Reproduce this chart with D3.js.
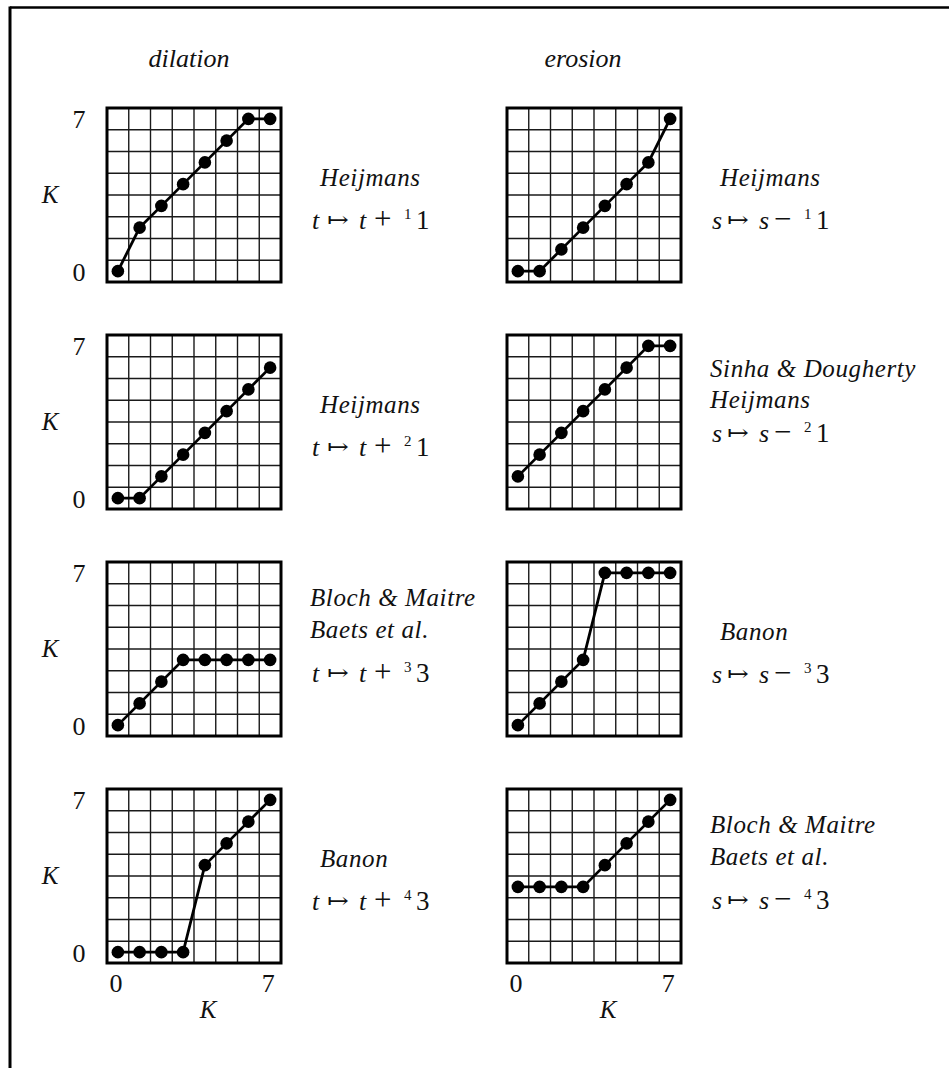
<!DOCTYPE html>
<html>
<head>
<meta charset="utf-8">
<script src="https://cdn.jsdelivr.net/npm/d3@7"></script>
<style>
  html, body { margin: 0; padding: 0; background: #fff; }
  svg { display: block; }
</style>
</head>
<body>
<svg id="chart" width="949" height="1068"></svg>
<script>
// Input values K = 0..7
const levels = [0, 1, 2, 3, 4, 5, 6, 7];
const tickLabels = ["0", "7"];
const columnTitles = ["dilation", "erosion"];
const axisName = "K";

// Adjunctional pairs, one row per table entry (dilation | erosion)
const dilation1 = [0, 2, 3, 4, 5, 6, 7, 7];
const erosion1  = [0, 0, 1, 2, 3, 4, 5, 7];
const dilation2 = [0, 0, 1, 2, 3, 4, 5, 6];
const erosion2  = [1, 2, 3, 4, 5, 6, 7, 7];
const dilation3 = [0, 1, 2, 3, 3, 3, 3, 3];
const erosion3  = [0, 1, 2, 3, 7, 7, 7, 7];
const dilation4 = [0, 0, 0, 0, 4, 5, 6, 7];
const erosion4  = [3, 3, 3, 3, 4, 5, 6, 7];

const dilationSeries = [dilation1, dilation2, dilation3, dilation4];
const erosionSeries  = [erosion1, erosion2, erosion3, erosion4];

// Attribution lines for each operator
const dilationAuthors = [["Heijmans"], ["Heijmans"], ["Bloch & Maitre", "Baets et al."], ["Banon"]];
const erosionAuthors  = [["Heijmans"], ["Sinha & Dougherty", "Heijmans"], ["Banon"], ["Bloch & Maitre", "Baets et al."]];

// Operator formulas: variable, sign, superscript index, constant
const dilationVar = "t", dilationSign = "+";
const erosionVar = "s", erosionSign = "\u2212";
const operatorIndex = ["1", "2", "3", "4"];
const operatorConst = ["1", "1", "3", "3"];

const SERIF = "'Liberation Serif', 'Times New Roman', Times, serif";

const svg = d3.select("#chart")
  .attr("font-family", SERIF)
  .attr("fill", "#111");

// outer frame (top and left rules)
svg.append("line").attr("x1", 10).attr("y1", 7.5).attr("x2", 949).attr("y2", 7.5)
  .attr("stroke", "#000").attr("stroke-width", 2.5);
svg.append("line").attr("x1", 10).attr("y1", 6.5).attr("x2", 10).attr("y2", 1068)
  .attr("stroke", "#000").attr("stroke-width", 3);

const size = 174;
const colX = [107, 507];
const rowY = [108, 335, 562, 789];

const x = d3.scaleLinear().domain([-0.5, 7.5]).range([0, size]);
const y = d3.scaleLinear().domain([-0.5, 7.5]).range([size, 0]);
const cellEdges = d3.range(-0.5, 8, 1);

// column titles
const titleCenters = [189, 583];
columnTitles.forEach((t, c) => {
  svg.append("text")
    .attr("x", titleCenters[c])
    .attr("y", 67)
    .attr("text-anchor", "middle")
    .attr("font-size", 26)
    .attr("font-style", "italic")
    .text(t);
});

function drawPanel(g, values) {
  // grid
  const grid = g.append("g");
  grid.selectAll("line.v").data(cellEdges.slice(1, -1)).join("line")
    .attr("x1", d => x(d)).attr("x2", d => x(d))
    .attr("y1", 0).attr("y2", size)
    .attr("stroke", "#1a1a1a").attr("stroke-width", 1.4);
  grid.selectAll("line.h").data(cellEdges.slice(1, -1)).join("line")
    .attr("y1", d => y(d)).attr("y2", d => y(d))
    .attr("x1", 0).attr("x2", size)
    .attr("stroke", "#1a1a1a").attr("stroke-width", 1.4);
  g.append("rect").attr("x", 0).attr("y", 0).attr("width", size).attr("height", size)
    .attr("fill", "none").attr("stroke", "#000").attr("stroke-width", 3);

  const pts = levels.map((k, i) => [k, values[i]]);
  g.append("path")
    .attr("d", d3.line().x(d => x(d[0])).y(d => y(d[1]))(pts))
    .attr("fill", "none").attr("stroke", "#000").attr("stroke-width", 2.8);
  g.selectAll("circle").data(pts).join("circle")
    .attr("cx", d => x(d[0])).attr("cy", d => y(d[1]))
    .attr("r", 6.3).attr("fill", "#000");
}

function drawCaption(g, authors, v, sign, idx, konst, compact) {
  const single = authors.length === 1;
  const lineX = single ? 39 : 29;
  const firstY = single ? 78 : (compact ? 42 : 44);
  const gap = compact ? 31 : 32;
  authors.forEach((a, i) => {
    g.append("text")
      .attr("x", lineX).attr("y", firstY + i * gap)
      .attr("font-size", 25).attr("font-style", "italic")
      .attr("letter-spacing", 0.6)
      .text(a);
  });
  const fy = single ? 121 : (compact ? 107 : 120);
  const f = g.append("g").attr("transform", `translate(0,${fy})`);
  f.append("text").attr("x", 31).attr("font-size", 26).attr("font-style", "italic").text(v);
  f.append("text").attr("x", 46).attr("font-size", 26)
    .attr("font-family", "'DejaVu Serif', serif").attr("transform", "scale(1,0.8)")
    .attr("y", -2).text("\u21A6");
  f.append("text").attr("x", 78).attr("font-size", 26).attr("font-style", "italic").text(v);
  f.append("text").attr("x", 93).attr("font-size", 31).text(sign);
  f.append("text").attr("x", 123).attr("y", -10).attr("font-size", 15).text(idx);
  f.append("text").attr("x", 135).attr("font-size", 27).text(konst);
}

for (let r = 0; r < 4; r++) {
  // dilation column
  const gl = svg.append("g").attr("transform", `translate(${colX[0]},${rowY[r]})`);
  drawPanel(gl, dilationSeries[r]);
  const cl = svg.append("g").attr("transform", `translate(${colX[0] + size},${rowY[r]})`);
  drawCaption(cl, dilationAuthors[r], dilationVar, dilationSign, operatorIndex[r], operatorConst[r], false);

  // erosion column
  const gr = svg.append("g").attr("transform", `translate(${colX[1]},${rowY[r]})`);
  drawPanel(gr, erosionSeries[r]);
  const cr = svg.append("g").attr("transform", `translate(${colX[1] + size},${rowY[r]})`);
  drawCaption(cr, erosionAuthors[r], erosionVar, erosionSign, operatorIndex[r], operatorConst[r], r === 1);

  // vertical axis labels (left column only)
  const ya = svg.append("g").attr("transform", `translate(${colX[0]},${rowY[r]})`);
  ya.append("text").attr("x", -28).attr("y", y(7) + 9).attr("text-anchor", "middle")
    .attr("font-size", 26).text(tickLabels[1]);
  ya.append("text").attr("x", -28).attr("y", y(0) + 10).attr("text-anchor", "middle")
    .attr("font-size", 26).text(tickLabels[0]);
  ya.append("text").attr("x", -57).attr("y", size / 2 + 8).attr("text-anchor", "middle")
    .attr("font-size", 25).attr("font-style", "italic").text(axisName);
}

// horizontal axis labels under the bottom row
colX.forEach(cx => {
  const g = svg.append("g").attr("transform", `translate(${cx},${rowY[3] + size})`);
  g.append("text").attr("x", x(0) - 2).attr("y", 29).attr("text-anchor", "middle")
    .attr("font-size", 26).text(tickLabels[0]);
  g.append("text").attr("x", x(7) - 2).attr("y", 29).attr("text-anchor", "middle")
    .attr("font-size", 26).text(tickLabels[1]);
  g.append("text").attr("x", size / 2 + 14).attr("y", 55).attr("text-anchor", "middle")
    .attr("font-size", 25).attr("font-style", "italic").text(axisName);
});
</script>
</body>
</html>
